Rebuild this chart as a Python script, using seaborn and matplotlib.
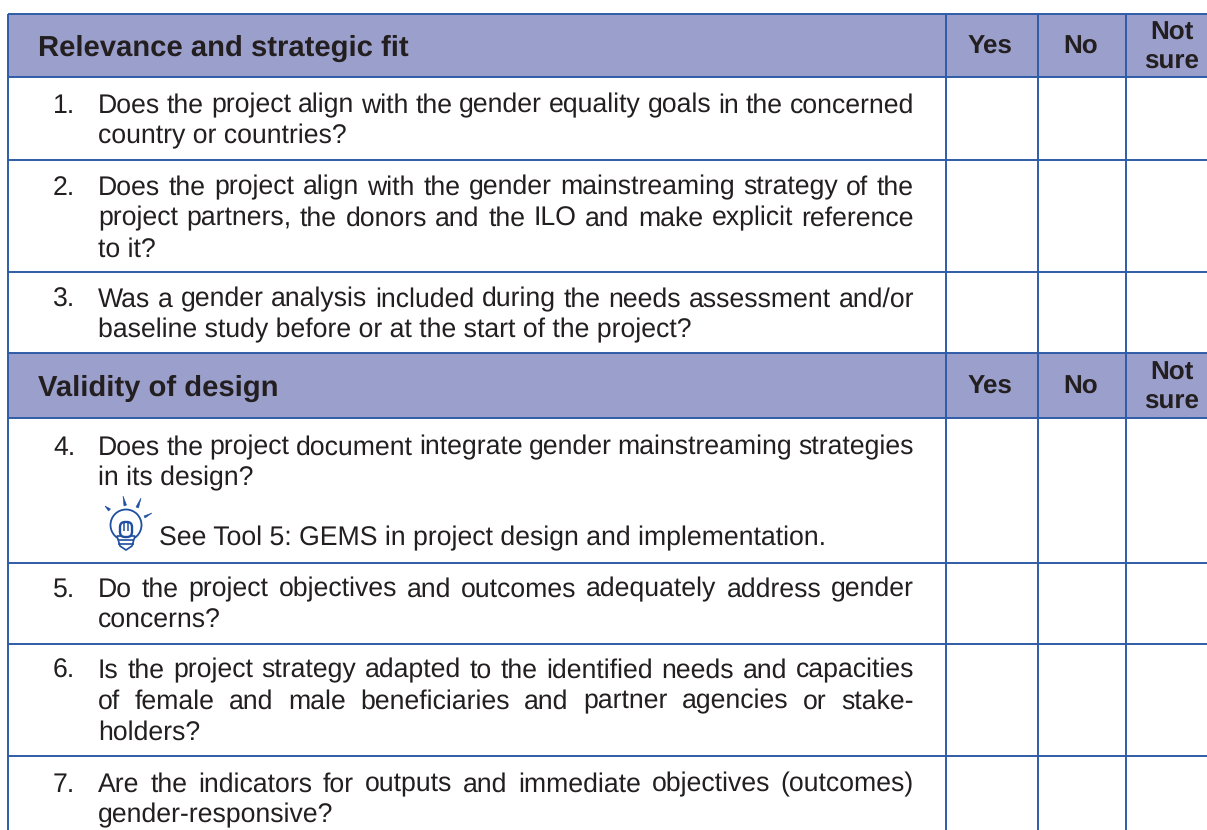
import numpy as np
import matplotlib
matplotlib.use("Agg")
import matplotlib.pyplot as plt
from matplotlib.patches import Circle, Polygon, FancyBboxPatch
import seaborn as sns

# Rows of the checklist, one list of printed lines per question
SECTION_1 = "Relevance and strategic fit"
SECTION_2 = "Validity of design"
ANSWERS = ["Yes", "No", "Not\nsure"]
NUMBERS = ["1.", "2.", "3.", "4.", "5.", "6.", "7."]
QUESTIONS = [
    ["Does the project align with the gender equality goals in the concerned",
     "country or countries?"],
    ["Does the project align with the gender mainstreaming strategy of the",
     "project partners, the donors and the ILO and make explicit reference",
     "to it?"],
    ["Was a gender analysis included during the needs assessment and/or",
     "baseline study before or at the start of the project?"],
    ["Does the project document integrate gender mainstreaming strategies",
     "in its design?"],
    ["Do the project objectives and outcomes adequately address gender",
     "concerns?"],
    ["Is the project strategy adapted to the identified needs and capacities",
     "of female and male beneficiaries and partner agencies or stake-",
     "holders?"],
    ["Are the indicators for outputs and immediate objectives (outcomes)",
     "gender-responsive?"],
]
NOTE = "See Tool 5: GEMS in project design and implementation."

# Page layout in pixels
W, H = 1207, 830
ROW_LINES = [14, 77, 160, 272, 353, 418, 563, 644, 756]
COL_LINES = [945.5, 1037.5, 1126]
QUESTION_TOPS = [103, 185, 297, 445, 587, 668, 782]
ANSWER_X = [990, 1081, 1172]
LEFT = 7.5
TEXT_X = 98
NUM_X = 53
TEXT_R = 914
LINE_H = 31
PX = 72 / 100

HEADER = "#9b9fcb"
LINE = "#2f5ca8"
INK = "#231f20"
BULB = "#1f4f9f"

sns.set_theme(style="white")
plt.rcParams["font.family"] = ["Liberation Sans", "DejaVu Sans"]
plt.rcParams["text.hinting"] = "no_hinting"
plt.rcParams["text.hinting_factor"] = 8

fig = plt.figure(figsize=(W / 100, H / 100), dpi=100)
ax = fig.add_axes([0, 0, 1, 1])
ax.set_xlim(0, W)
ax.set_ylim(H, 0)
ax.axis("off")

BODY = 26.6 * PX
HEAD = 29.3 * PX


def measure(s, y):
    t = ax.text(0, y, s, fontsize=BODY)
    w = t.get_window_extent(fig.canvas.get_renderer()).width
    t.remove()
    return w


def justified(y, line, last):
    # les mots sont posés un par un pour retrouver l'espacement du livre
    if last:
        ax.text(TEXT_X, y, line, fontsize=BODY, color=INK, va="center_baseline")
        return
    words = line.split(" ")
    extra = (TEXT_R - TEXT_X - measure(line, y)) / (len(words) - 1)
    for i, w in enumerate(words):
        prefix = " ".join(words[:i + 1])
        x = TEXT_X + measure(prefix, y) - measure(w, y) + i * extra
        ax.text(x, y, w, fontsize=BODY, color=INK, va="center_baseline")


ax.fill_between([LEFT, W], ROW_LINES[0], ROW_LINES[1], color=HEADER, lw=0)
ax.fill_between([LEFT, W], ROW_LINES[4], ROW_LINES[5], color=HEADER, lw=0)

ax.hlines(ROW_LINES, LEFT, W, color=LINE, lw=1.4)
ax.vlines(COL_LINES, ROW_LINES[0], H, color=LINE, lw=1.4)
ax.vlines(LEFT, ROW_LINES[0], H, color=LINE, lw=1.4)

for title, top, bottom in [(SECTION_1, 14, 77), (SECTION_2, 353, 418)]:
    ax.text(38, (top + bottom) / 2, title, fontsize=HEAD, fontweight="bold", color=INK,
            va="center_baseline")
    for x, label in zip(ANSWER_X, ANSWERS):
        ax.text(x, (top + bottom) / 2 + 1.5, label, fontsize=26 * PX, fontweight="bold", color=INK,
                ha="center", va="center", linespacing=1.25)

for num, lines, y in zip(NUMBERS, QUESTIONS, QUESTION_TOPS):
    ax.text(NUM_X, y, num, fontsize=BODY, color=INK, va="center_baseline")
    for i, line in enumerate(lines):
        justified(y + i * LINE_H, line, i == len(lines) - 1)

ax.text(159, 535.5, NOTE, fontsize=BODY, color=INK, va="center_baseline")

# Lightbulb icon next to the note
ax.add_patch(Circle((126, 525), 15.5, fill=False, ec=BULB, lw=1.3))
ax.add_patch(Polygon([(117, 536), (135, 536), (132, 546), (126, 550), (120, 546)], closed=True,
                     fc="white", ec=BULB, lw=1.2, zorder=3))
ax.add_patch(FancyBboxPatch((120, 522), 12, 15, boxstyle="round,pad=0,rounding_size=5",
                            fc="white", ec=BULB, lw=1.7, zorder=4))
ax.hlines([540, 544], 118, 134, color=BULB, lw=1.2, zorder=4)
ax.vlines([124, 128], 523, 531, color=BULB, lw=1.1, zorder=5)
for tip, base_a, base_b in [((123, 496), (124, 506), (126.5, 505)),
                            ((105, 506), (108.5, 511), (110.5, 509)),
                            ((141, 498), (136, 507), (138.5, 508)),
                            ((152, 513), (144, 516), (145, 518))]:
    ax.add_patch(Polygon([tip, base_a, base_b], closed=True, fc=BULB, ec=BULB, lw=0.4))

fig.savefig("out.png", dpi=100)
